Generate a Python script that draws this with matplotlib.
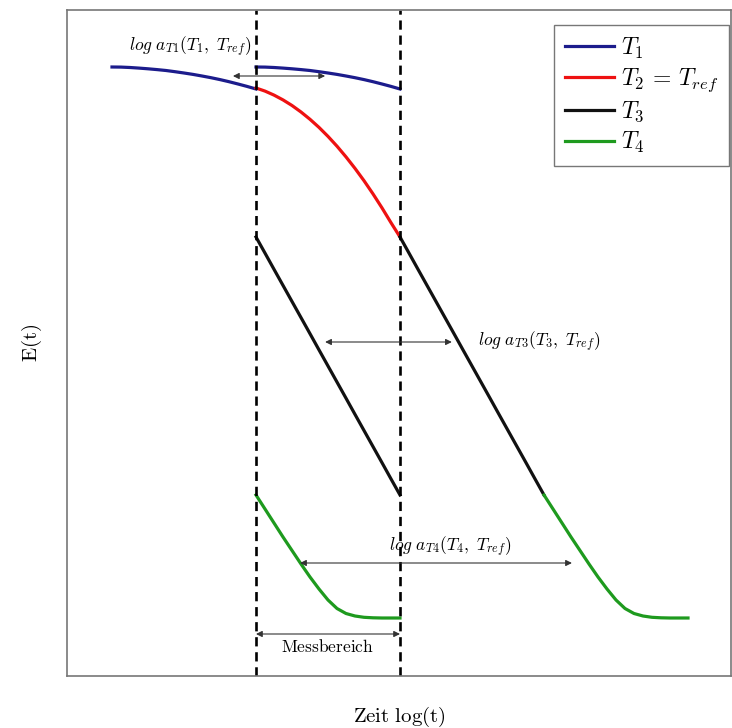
import matplotlib
matplotlib.use("Agg")
import matplotlib.pyplot as plt
import numpy as np

plt.rcParams['mathtext.fontset'] = 'cm'
plt.rcParams['font.family'] = 'DejaVu Serif'

# log(t), measuring window is 0..1
x_win = np.linspace(0, 1, 17)

# E(t) inside the measuring window for each temperature
E_T1 = [6.09, 6.089, 6.085, 6.079, 6.072, 6.064, 6.055, 6.043, 6.03,
        6.016, 6.00, 5.983, 5.964, 5.943, 5.92, 5.896, 5.87]
E_T2 = [5.88, 5.849, 5.809, 5.761, 5.705, 5.640, 5.567, 5.486, 5.396,
        5.298, 5.191, 5.076, 4.953, 4.821, 4.681, 4.533, 4.39]
E_T3 = [4.39, 4.229, 4.067, 3.906, 3.745, 3.584, 3.423, 3.261, 3.10,
        2.939, 2.778, 2.616, 2.455, 2.294, 2.133, 1.971, 1.81]
E_T4 = [1.81, 1.67, 1.53, 1.39, 1.255, 1.12, 0.99, 0.87, 0.76,
        0.675, 0.625, 0.60, 0.587, 0.582, 0.58, 0.58, 0.58]

# shift factors log a_T
shift_T1 = -1.0
shift_T3 = 1.0
shift_T4 = 2.0

c_blue = '#1c1c8c'
c_red = '#ee1111'
c_black = '#111111'
c_green = '#1e9a1e'

fig = plt.figure(figsize=(7.32, 7.28), dpi=100)
ax = fig.add_axes([67/732, 1-676/728, 664/732, 666/728])

lw = 2.3
ax.plot(x_win, E_T1, color=c_blue, lw=lw, label=r'$T_1$')
ax.plot(x_win + shift_T1, E_T1, color=c_blue, lw=lw)
ax.plot(x_win, E_T2, color=c_red, lw=lw, label=r'$T_2\,=\,T_{ref}$')
ax.plot(x_win, E_T3, color=c_black, lw=lw, label=r'$T_3$')
ax.plot(x_win + shift_T3, E_T3, color=c_black, lw=lw)
ax.plot(x_win, E_T4, color=c_green, lw=lw, label=r'$T_4$')
ax.plot(x_win + shift_T4, E_T4, color=c_green, lw=lw)

# measuring window
for xv in (0, 1):
    ax.axvline(xv, color='black', lw=1.9, ls=(0, (3.5, 2.2)))

arrow = dict(arrowstyle='<|-|>', color='#333333', lw=0.8,
             mutation_scale=9, shrinkA=0, shrinkB=0)

ax.annotate('', xy=(-0.16, 6.00), xytext=(0.48, 6.00), arrowprops=arrow)
ax.text(-0.03, 6.29, r'$log\ a_{T1}(T_1,\ T_{ref})$', ha='right', va='center', fontsize=12.5)

ax.annotate('', xy=(0.48, 3.34), xytext=(1.36, 3.34), arrowprops=arrow)
ax.text(1.54, 3.34, r'$log\ a_{T3}(T_3,\ T_{ref})$', ha='left', va='center', fontsize=12.5)

ax.annotate('', xy=(0.306, 1.13), xytext=(2.194, 1.13), arrowprops=arrow)
ax.text(1.35, 1.29, r'$log\ a_{T4}(T_4,\ T_{ref})$', ha='center', va='center', fontsize=12.5)

ax.annotate('', xy=(0, 0.42), xytext=(1, 0.42), arrowprops=arrow)
ax.text(0.5, 0.29, r'$\mathrm{Messbereich}$', ha='center', va='center', fontsize=12.5)

ax.set_xlim(-189/144, 475/144)
ax.set_ylim(0, 6.66)
ax.set_xticks([])
ax.set_yticks([])
for sp in ax.spines.values():
    sp.set_color('#777777')
    sp.set_linewidth(1.2)

ax.set_xlabel(r'$\mathrm{Zeit\ log(t)}$', fontsize=15)
ax.set_ylabel(r'$\mathrm{E(t)}$', fontsize=15)
ax.xaxis.set_label_coords(0.5, -0.043)
ax.yaxis.set_label_coords(-0.034, 0.5)

leg = ax.legend(loc='upper right', bbox_to_anchor=(0.997, 0.9775), borderaxespad=0,
                fontsize=17, handlelength=2.1, handletextpad=0.3, labelspacing=0.25,
                borderpad=0.45, fancybox=False, framealpha=1, edgecolor='#777777')
leg.get_frame().set_linewidth(1.0)

fig.savefig('out.png', dpi=100)
